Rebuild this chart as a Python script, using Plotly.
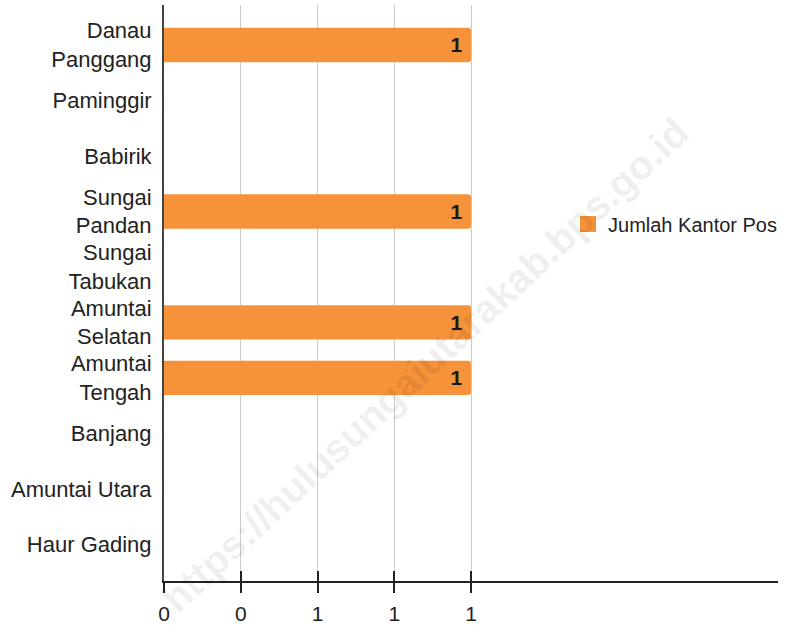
import plotly.graph_objects as go

categories = ["Danau<br>Panggang", "Paminggir", "Babirik", "Sungai<br>Pandan", "Sungai<br>Tabukan",
              "Amuntai<br>Selatan", "Amuntai<br>Tengah", "Banjang", "Amuntai Utara", "Haur Gading"]
values = [1, 0, 0, 1, 0, 1, 1, 0, 0, 0]
tick_vals = [0, 0.25, 0.5, 0.75, 1]
tick_text = ["0", "0", "1", "1", "1"]
series_name = "Jumlah Kantor Pos"

FONT = "Liberation Sans, Arial, sans-serif"
ORANGE = "#F5923A"
TXT = "#222222"

fig = go.Figure()
fig.add_trace(go.Bar(
    y=categories, x=values, orientation="h", name=series_name,
    marker=dict(color=ORANGE, cornerradius=3, line=dict(width=0)),
    width=0.62, showlegend=False,
    text=[(str(v) + "\u00a0") if v else "" for v in values],
    textposition="inside", insidetextanchor="end",
    textfont=dict(family=FONT, size=21, color="#1a1a1a", weight="bold"),
    cliponaxis=False,
))
# legend entry (square swatch)
fig.add_trace(go.Scatter(x=[None], y=[None], mode="markers", name=series_name,
                         marker=dict(symbol="square", size=16, color=ORANGE),
                         showlegend=True, hoverinfo="skip"))
# invisible trace on overlay axis for inside tick marks
fig.add_trace(go.Scatter(x=[0, 2], y=[categories[0], categories[0]], xaxis="x2",
                         mode="markers", marker=dict(opacity=0), showlegend=False,
                         hoverinfo="skip"))

fig.update_layout(
    width=811, height=629,
    margin=dict(l=164, r=33, t=5, b=48),
    paper_bgcolor="white", plot_bgcolor="white",
    font=dict(family=FONT, size=22, color=TXT),
    showlegend=True,
    legend=dict(x=0.658, y=0.62, xanchor="left", yanchor="middle",
                font=dict(size=20, color=TXT), itemsizing="trace",
                bgcolor="rgba(0,0,0,0)"),
    xaxis=dict(range=[0, 2], tickvals=tick_vals, ticktext=tick_text,
               showgrid=True, gridcolor="#cccccc", gridwidth=1,
               showline=True, linecolor=TXT, linewidth=2,
               ticks="outside", ticklen=10, tickwidth=2, tickcolor=TXT,
               ticklabelstandoff=3,
               tickfont=dict(size=21, color=TXT), zeroline=False,
               automargin=False, fixedrange=True),
    xaxis2=dict(range=[0, 2], overlaying="x", side="bottom", anchor="y",
                tickvals=tick_vals, showticklabels=False, showgrid=False,
                ticks="inside", ticklen=10, tickwidth=2, tickcolor=TXT,
                showline=False, zeroline=False, automargin=False),
    yaxis=dict(range=[9.66, -0.72], showgrid=False, showline=True,
               linecolor="#444444", linewidth=2, ticks="",
               ticklabelstandoff=6, automargin=False,
               tickfont=dict(size=22, color=TXT), zeroline=False),
)

fig.add_annotation(
    text="https://hulusungaiutarakab.bps.go.id",
    xref="paper", yref="paper", x=(425 - 164) / 614, y=(581 - 365) / 576,
    showarrow=False, textangle=-43,
    font=dict(family=FONT, size=40, color="rgba(0,0,0,0.08)", weight="bold"),
)

fig.write_html("out.html", config={"displayModeBar": False},
               post_script="document.body.style.margin='0';document.body.style.overflow='hidden';")
